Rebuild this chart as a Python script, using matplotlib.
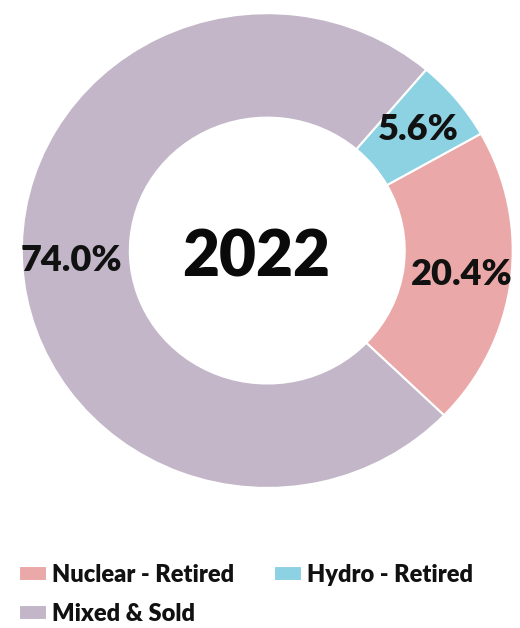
import matplotlib
matplotlib.use("Agg")
import matplotlib.pyplot as plt

# Share of 2022 capacity by category
categories = ["Nuclear - Retired", "Hydro - Retired", "Mixed & Sold"]
shares = [20.4, 5.6, 74.0]
colors = ["#EBA8A8", "#8DD2E2", "#C2B6C8"]
center_label = "2022"

plt.rcParams["font.family"] = ["Lato", "DejaVu Sans"]

fig = plt.figure(figsize=(5.2, 6.28), dpi=100)
ax = fig.add_axes([0.042, 0.223, 0.944, 0.756])

wedges, texts, autotexts = ax.pie(
    shares,
    colors=colors,
    startangle=29.5 - shares[0] * 3.6,
    counterclock=True,
    radius=1.0,
    autopct=lambda p: f"{p:.1f}%",
    pctdistance=0.8,
    wedgeprops=dict(width=0.44, edgecolor="white", linewidth=1.5),
    textprops=dict(fontsize=26, fontweight="heavy", color="#111111"),
)

ax.text(-0.047, -0.03, center_label, ha="center", va="center",
        fontsize=46, fontweight="heavy", color="#0a0a0a")

ax.set_xlim(-1, 1)
ax.set_ylim(-1, 1)
ax.set_aspect("auto")
ax.axis("off")

# legend laid out row by row: Nuclear, Hydro / Mixed
order = [0, 2, 1]
fig.legend(
    [wedges[i] for i in order], [categories[i] for i in order],
    loc="upper left",
    bbox_to_anchor=(0.0135, 0.121),
    ncol=2,
    frameon=False,
    borderpad=0,
    prop=dict(size=17, weight="heavy"),
    labelcolor="#111111",
    handlelength=1.2,
    handleheight=0.6,
    handletextpad=0.2,
    columnspacing=1.7,
    labelspacing=0.72,
)

fig.savefig("out.png", dpi=100, facecolor="white")
